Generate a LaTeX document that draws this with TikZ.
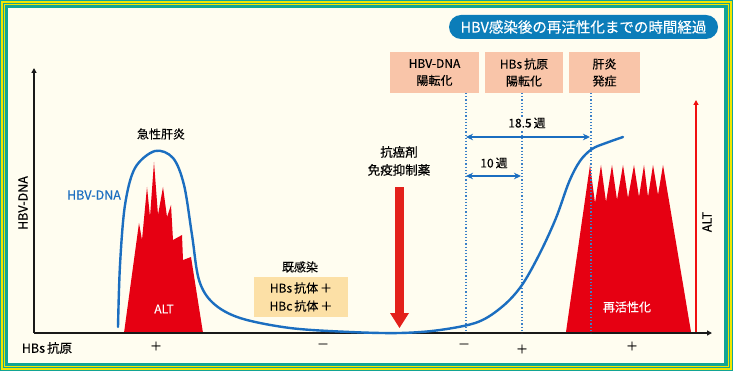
\documentclass[tikz,border=0pt]{standalone}
\usepackage{fontspec}
\setmainfont[FakeBold=0.35]{Noto Sans CJK JP}
\usetikzlibrary{arrows.meta}
\definecolor{tealb}{HTML}{12A595}
\definecolor{yelb}{HTML}{F2E600}
\definecolor{cream}{HTML}{FFFDF0}
\definecolor{pillc}{HTML}{0B7DB9}
\definecolor{salmon}{HTML}{F9C5A9}
\definecolor{tanb}{HTML}{FCE0A6}
\definecolor{cblue}{HTML}{1B6EC0}
\definecolor{dblue}{HTML}{3A80C8}
\definecolor{altred}{HTML}{E60012}
\definecolor{arrred}{HTML}{E3211B}
\definecolor{axred}{HTML}{F01010}
\begin{document}
\begin{tikzpicture}[x=1pt,y=-1pt,
  lbl/.style={font=\fontsize{12}{17}\selectfont, inner sep=0pt, align=center, text=black},
  sbox/.style={fill=salmon, minimum height=41pt, inner sep=0pt, align=center, font=\fontsize{12}{17}\selectfont},
  dotl/.style={dblue, line width=1.1pt, dash pattern=on 1.3pt off 1.9pt},
  barr/.style={cblue, line width=1.8pt, {Stealth[length=7pt,width=6.5pt]}-{Stealth[length=7pt,width=6.5pt]}},
  axis/.style={black!90, line width=1.5pt, -{Triangle[length=5pt,width=5pt]}},
  altshape/.style={fill=altred, draw=none}]
\useasboundingbox (0,0) rectangle (733,371);
% frame
\fill[tealb] (0,0) rectangle (733,371);
\fill[yelb] (0.8,0.8) rectangle (732.2,370.2);
\fill[tealb] (3,3) rectangle (730,368);
\fill[yelb] (3.8,3.8) rectangle (729.2,367.2);
\fill[tealb] (4.6,4.6) rectangle (728.4,366.4);
\fill[cream] (8.3,8.3) rectangle (723.5,363);
% title
\node[fill=pillc, rounded corners=12pt, minimum width=269pt, minimum height=24pt, inner sep=0pt,
  text=white, font=\fontsize{14.5}{16}\selectfont] (title) at (583.5,27) {HBV感染後の再活性化までの時間経過};
% red ALT shapes
\fill[altshape] (124,333) -- (139,223) -- (142,240) -- (147,187) -- (150,217) -- (154,162) -- (158,215)
  -- (163,187) -- (167,217) -- (171,205) -- (173,240) -- (182,235) -- (183,260) -- (191,257)
  -- (203,333) -- cycle;
\fill[altshape] (566,332) -- (590,165) -- (595,203) -- (601,165) -- (606,202) -- (612,165) -- (617,200)
  -- (623,165) -- (628,198) -- (634,165) -- (639,197) -- (644,165) -- (648,197) -- (653,165)
  -- (658,195) -- (663,165) -- (691,332) -- cycle;
% axes
\coordinate (o) at (34,333);
\coordinate (ytop) at (34,68);
\coordinate (xend) at (712,333);
\coordinate (altb) at (696,333);
\coordinate (altt) at (696,100);
\draw[axred, line width=1.5pt, -{Triangle[length=5pt,width=5pt]}] (altb) -- (altt);
\draw[axis] (o) -- (ytop);
\draw[axis] (o) -- (xend);
% boxes
\node[sbox, minimum width=89pt] (b1) at (434.5,72.5) {HBV-DNA\\陽転化};
\node[sbox, minimum width=78pt] (b2) at (524,72.5) {HBs\,抗原\\陽転化};
\node[sbox, minimum width=71pt] (b3) at (604.5,72.5) {肝炎\\発症};
\coordinate (d1t) at (466,93); \coordinate (d1b) at (466,333);
\coordinate (d2t) at (522,93); \coordinate (d2b) at (522,333);
\coordinate (d3t) at (591,93); \coordinate (d3b) at (591,333);
\draw[dotl] (d1t) -- (d1b);
\draw[dotl] (d2t) -- (d2b);
\draw[dotl] (d3t) -- (d3b);
% HBV-DNA curve
\draw[cblue, line width=2.4pt, line cap=round] plot[smooth, tension=0.55] coordinates {
 (118,327) (120,265) (125,205) (135,168) (155,151) (173,158) (184,185) (192,235) (199,280)
 (213,303) (240,318) (290,328) (350,332) (400,333) (440,330) (478,322) (503,306) (522,285)
 (540,253) (556,218) (569,182) (580,161) (592,149) (606,143) (623,137)};
% arrows between dotted lines
\coordinate (a18l) at (466,137); \coordinate (a18r) at (590,137);
\coordinate (a10l) at (466,176); \coordinate (a10r) at (521,176);
\draw[barr] (a18l) -- (a18r);
\draw[barr] (a10l) -- (a10r);
\node[lbl, fill=cream, inner sep=1pt] (t18) at (527,123) {18.5\,週};
\node[lbl] (t10) at (494,163) {10\,週};
% red drug arrow
\fill[arrred] (395,187) rectangle (404,314);
\fill[arrred] (390,313) -- (409,313) -- (399.5,328) -- cycle;
\node[lbl, font=\fontsize{12.5}{18}\selectfont] (drug) at (399,161) {抗癌剤\\免疫抑制薬};
% labels
\node[lbl] (acute) at (161,134) {急性肝炎};
\node[lbl, text=cblue, font=\fontsize{12.5}{15}\selectfont] (dnal) at (94,195) {HBV-DNA};
\node[lbl, rotate=90, font=\fontsize{12.5}{15}\selectfont] (yl) at (23,203) {HBV-DNA};
\node[lbl, rotate=90, font=\fontsize{12.5}{15}\selectfont] (altl) at (707,222) {ALT};
\node[lbl, text=white] (alt1) at (164,309) {ALT};
\node[lbl, text=white] (react) at (627,307) {再活性化};
\node[lbl] (past) at (300,267) {既感染};
\node[fill=tanb, minimum width=94pt, minimum height=40pt, inner sep=0pt, align=center,
  font=\fontsize{12}{18}\selectfont, text=black] (tan) at (301,297) {HBs\,抗体\,＋\\HBc\,抗体\,＋};
% bottom row
\node[lbl, font=\fontsize{12.5}{15}\selectfont] (hbs) at (47,348) {HBs\,抗原};
\node[lbl] (p1) at (156,346) {＋};
\node[lbl] (m1) at (323,346) {－};
\node[lbl] (m2) at (464,346) {－};
\node[lbl] (p2) at (522,349) {＋};
\node[lbl] (p3) at (632,346) {＋};
\end{tikzpicture}
\end{document}
